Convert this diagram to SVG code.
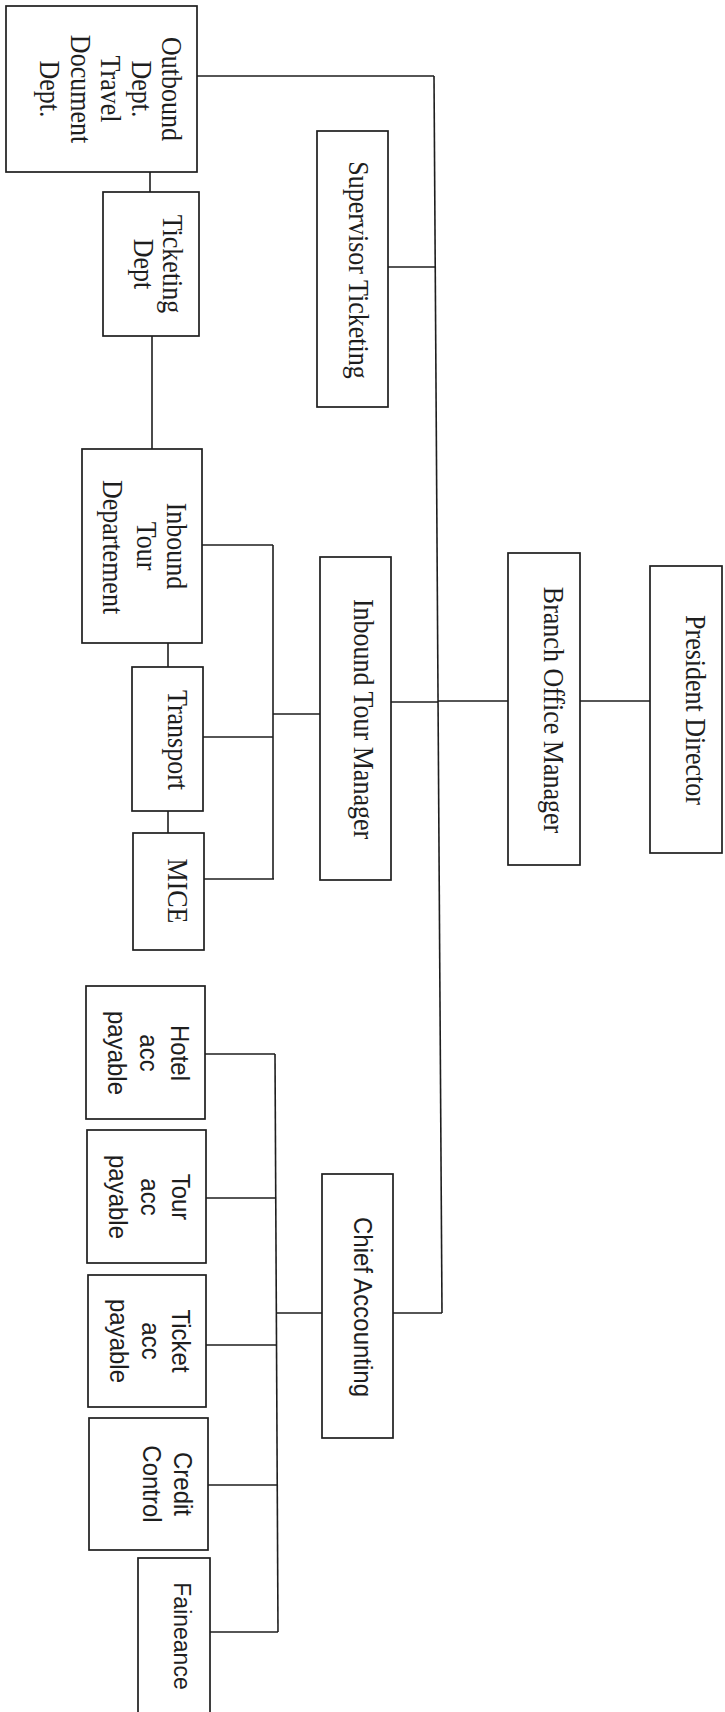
<svg xmlns="http://www.w3.org/2000/svg" width="725" height="1712" viewBox="0 0 725 1712">
<style>
.box{fill:#fff;stroke:#1e1e1e;stroke-width:1.7}
.ln{fill:none;stroke:#1e1e1e;stroke-width:1.6}
.s{font-family:"Liberation Serif","Times New Roman",serif;font-size:26px;fill:#1e1e1e;text-anchor:middle}
.a{font-family:"Liberation Sans",Arial,sans-serif;font-size:24px;fill:#1e1e1e;text-anchor:middle}
</style>
<rect width="725" height="1712" fill="#fff"/>
<g id="connectors" class="ln">
<path d="M434 76 L442 1313"/>
<path d="M197 76 H434"/>
<path d="M388 267 H435"/>
<path d="M391 702 H438"/>
<path d="M438 701 H508"/>
<path d="M580 701 H650"/>
<path d="M393 1313 H442"/>
<path d="M150 172 V192"/>
<path d="M152 336 V449"/>
<path d="M168 643 V667"/>
<path d="M168 811 V833"/>
<path d="M273 545 V879"/>
<path d="M202 545 H273"/>
<path d="M203 737 H273"/>
<path d="M204 879 H274"/>
<path d="M273 714 H320"/>
<path d="M275 1054 L278 1632"/>
<path d="M205 1054 H275"/>
<path d="M206 1198 H276"/>
<path d="M206 1345 H277"/>
<path d="M208 1485 H277"/>
<path d="M210 1632 H278"/>
<path d="M277 1313 H322"/>
</g>
<g id="outbound">
<rect class="box" x="6" y="6" width="191" height="166"/>
<text class="s" transform="translate(162,89) rotate(90) scale(1,1.12)">Outbound</text>
<text class="s" transform="translate(132,89) rotate(90) scale(1,1.12)">Dept.</text>
<text class="s" transform="translate(101,89) rotate(90) scale(1,1.12)">Travel</text>
<text class="s" transform="translate(71,89) rotate(90) scale(1,1.12)">Document</text>
<text class="s" transform="translate(40,89) rotate(90) scale(1,1.12)">Dept.</text>
</g>
<g id="ticketing-dept">
<rect class="box" x="103" y="192" width="96" height="144"/>
<text class="s" transform="translate(163,264) rotate(90) scale(1,1.12)">Ticketing</text>
<text class="s" transform="translate(134,264) rotate(90) scale(1,1.12)">Dept</text>
</g>
<g id="supervisor-ticketing">
<rect class="box" x="317" y="131" width="71" height="276"/>
<text class="s" transform="translate(349,270) rotate(90) scale(1,1.12)">Supervisor Ticketing</text>
</g>
<g id="inbound-tour-dept">
<rect class="box" x="82" y="449" width="120" height="194"/>
<text class="s" transform="translate(167,546) rotate(90) scale(1,1.12)">Inbound</text>
<text class="s" transform="translate(137,546) rotate(90) scale(1,1.12)">Tour</text>
<text class="s" transform="translate(103,547) rotate(90) scale(1,1.12)">Departement</text>
</g>
<g id="transport">
<rect class="box" x="132" y="667" width="71" height="144"/>
<text class="s" transform="translate(168,740) rotate(90) scale(1,1.12)">Transport</text>
</g>
<g id="mice">
<rect class="box" x="133" y="833" width="71" height="117"/>
<text class="s" transform="translate(168,891) rotate(90) scale(1,1.12)">MICE</text>
</g>
<g id="inbound-tour-manager">
<rect class="box" x="320" y="557" width="71" height="323"/>
<text class="s" transform="translate(354,719) rotate(90) scale(1,1.12)">Inbound Tour Manager</text>
</g>
<g id="branch-office-manager">
<rect class="box" x="508" y="553" width="72" height="312"/>
<text class="s" transform="translate(544,710) rotate(90) scale(1,1.12)">Branch Office Manager</text>
</g>
<g id="president-director">
<rect class="box" x="650" y="566" width="72" height="287"/>
<text class="s" transform="translate(686,710) rotate(90) scale(1,1.12)">President Director</text>
</g>
<g id="hotel-acc-payable">
<rect class="box" x="86" y="986" width="119" height="133"/>
<text class="a" transform="translate(171,1053) rotate(90) scale(1,1.08)">Hotel</text>
<text class="a" transform="translate(140,1053) rotate(90) scale(1,1.08)">acc</text>
<text class="a" transform="translate(108,1053) rotate(90) scale(1,1.08)">payable</text>
</g>
<g id="tour-acc-payable">
<rect class="box" x="87" y="1130" width="119" height="133"/>
<text class="a" transform="translate(172,1197) rotate(90) scale(1,1.08)">Tour</text>
<text class="a" transform="translate(141,1197) rotate(90) scale(1,1.08)">acc</text>
<text class="a" transform="translate(109,1197) rotate(90) scale(1,1.08)">payable</text>
</g>
<g id="ticket-acc-payable">
<rect class="box" x="88" y="1275" width="118" height="132"/>
<text class="a" transform="translate(172,1341) rotate(90) scale(1,1.08)">Ticket</text>
<text class="a" transform="translate(142,1341) rotate(90) scale(1,1.08)">acc</text>
<text class="a" transform="translate(110,1341) rotate(90) scale(1,1.08)">payable</text>
</g>
<g id="credit-control">
<rect class="box" x="89" y="1418" width="119" height="132"/>
<text class="a" transform="translate(174,1484) rotate(90) scale(1,1.08)">Credit</text>
<text class="a" transform="translate(143,1484) rotate(90) scale(1,1.08)">Control</text>
</g>
<g id="faineance">
<rect class="box" x="138" y="1558" width="72" height="170"/>
<text class="a" style="font-size:23px" transform="translate(174,1636) rotate(90) scale(1,1.08)">Faineance</text>
</g>
<g id="chief-accounting">
<rect class="box" x="322" y="1174" width="71" height="264"/>
<text class="a" transform="translate(354,1307) rotate(90) scale(1,1.08)">Chief Accounting</text>
</g>
</svg>
